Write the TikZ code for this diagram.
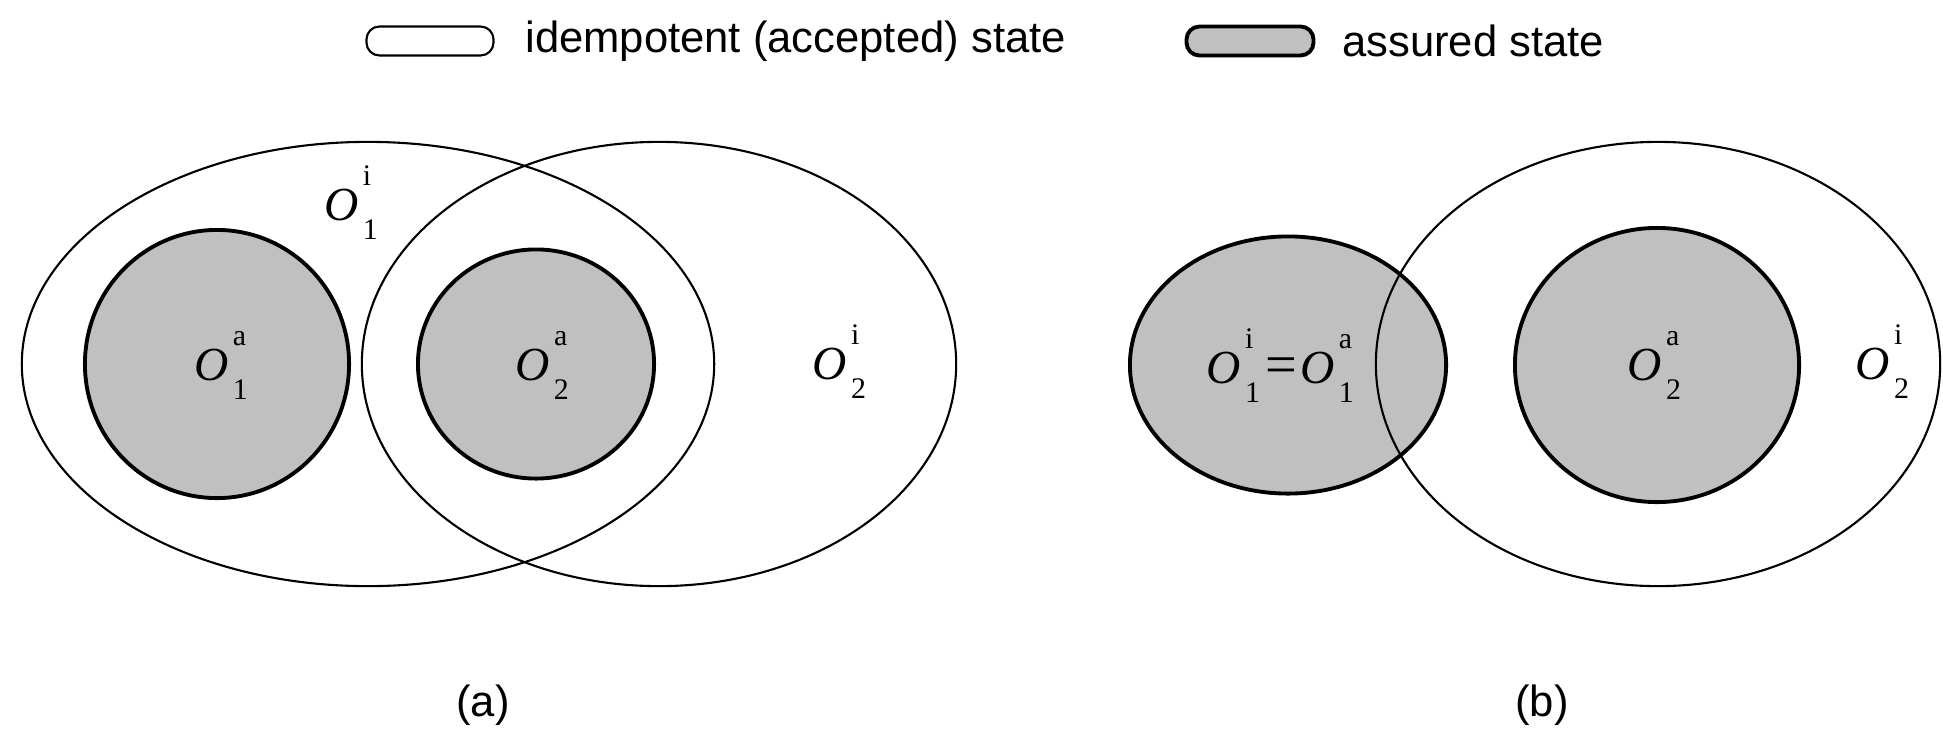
\documentclass[tikz,border=0pt]{standalone}
\usepackage{fontspec}
\setmainfont{Liberation Sans}
\newfontfamily\timesfont{Liberation Serif}
\usetikzlibrary{shapes.geometric,positioning}

\definecolor{assurgray}{RGB}{192,192,192}

\newcommand{\objsym}[2]{{\timesfont\fontsize{13.5pt}{14pt}\selectfont\itshape O}\kern0.04cm%
  \rlap{\raisebox{0.34cm}{\timesfont\fontsize{8.5pt}{9pt}\selectfont #1}}%
  \raisebox{-0.19cm}{\timesfont\fontsize{8.5pt}{9pt}\selectfont #2}}

\begin{document}
\begin{tikzpicture}[x=0.01cm,y=-0.01cm,
    idem/.style={ellipse,draw,line width=0.6pt,inner sep=0pt},
    assur/.style={ellipse,draw,line width=1.1pt,fill=assurgray,inner sep=0pt},
    legbox/.style={draw,rounded corners=0.13cm,minimum width=1.27cm,minimum height=0.29cm,inner sep=0pt},
    legtext/.style={font=\fontsize{12.4pt}{14pt}\selectfont,inner sep=0pt},
    sym/.style={anchor=base west,inner sep=0pt},
    caption/.style={font=\fontsize{12.4pt}{14pt}\selectfont,inner sep=0pt}]
\useasboundingbox (0,0) rectangle (1943,733);

\node[legbox,line width=0.6pt] (legidem) at (430,41) {};
\node[legtext,right=0.3cm of legidem] (legidemtxt) {idempotent (accepted) state};
\node[legbox,line width=1.1pt,fill=assurgray] (legassur) at (1250,41) {};
\node[legtext,right=0.26cm of legassur] (legassurtxt) {assured state};

% (a)
\node[assur,minimum width=2.64cm,minimum height=2.68cm] (ao1a) at (217,364) {};
\node[assur,minimum width=2.36cm,minimum height=2.29cm] (ao2a) at (536,364) {};
\node[idem,minimum width=6.92cm,minimum height=4.44cm] (ao1i) at (368,364) {};
\node[idem,minimum width=5.94cm,minimum height=4.44cm] (ao2i) at (659,364) {};
\node[sym] (ao1ilbl) at (324,220) {\objsym{i}{1}};
\node[sym] (ao1albl) at (194,380) {\objsym{a}{1}};
\node[sym] (ao2albl) at (515,380) {\objsym{a}{2}};
\node[sym] (ao2ilbl) at (812,379) {\objsym{i}{2}};
\node[caption] (capa) at (483,705) {(a)};

% (b)
\node[assur,minimum width=3.16cm,minimum height=2.57cm] (bo1) at (1288,365) {};
\node[assur,minimum width=2.84cm,minimum height=2.74cm] (bo2a) at (1657,365) {};
\node[idem,minimum width=5.64cm,minimum height=4.44cm] (bo2i) at (1658,364) {};
\node[sym] (bo1lbl) at (1206,383) {\objsym{i}{1}{\timesfont\fontsize{16pt}{16pt}\selectfont\kern0.06cm=\kern0.03cm}\objsym{a}{1}};
\node[sym] (bo2albl) at (1627,380) {\objsym{a}{2}};
\node[sym] (bo2ilbl) at (1855,379) {\objsym{i}{2}};
\node[caption] (capb) at (1542,705) {(b)};
\end{tikzpicture}
\end{document}
